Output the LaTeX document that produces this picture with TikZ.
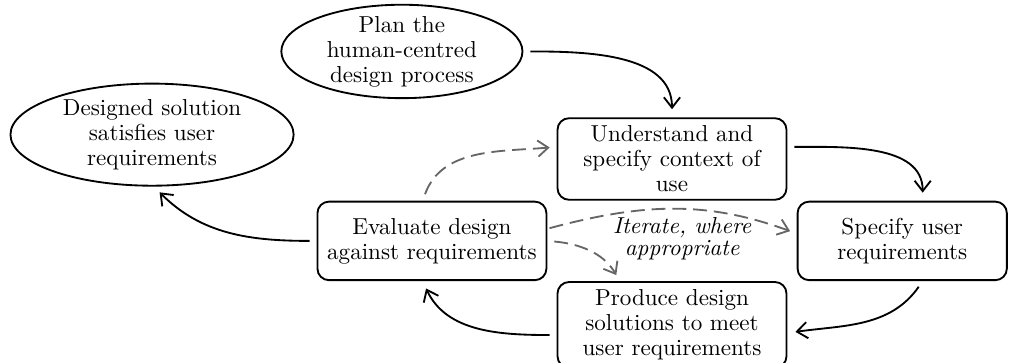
\documentclass[tikz,border=0pt]{standalone}
\usetikzlibrary{positioning,shapes.geometric,arrows.meta}

\begin{document}
\begin{tikzpicture}[
			font=\fontsize{10}{10.8}\selectfont,
			stage/.style={rectangle, rounded corners=5pt, draw=black, thick, text width=3.25cm, align=center, minimum height=34pt},
			goal/.style={ellipse, draw=black, thick, inner sep=0pt, align=center},
			note/.style={rectangle, text=black, font=\fontsize{10}{9.5}\selectfont\itshape, align=center},
			>={Straight Barb[length=4.5pt,width=7pt]}
		]
		\useasboundingbox (-187pt,-52.8pt) rectangle (252pt,104.3pt);
		\node[stage] (evaluate) at (0,0) {Evaluate design\\against requirements};
		\node[stage] (understand) [above right=0pt and 4pt of evaluate] {Understand and\\specify context of\\use};
		\node[stage, text width=2.95cm] (specify) [below right=0pt and 4pt of understand] {Specify user\\requirements};
		\node[stage] (produce) [below left=0pt and 4pt of specify] {Produce design\\solutions to meet\\user requirements};
		\node[goal, text width=2.5cm, minimum width=104.4pt, minimum height=40.3pt, inner ysep=-1pt] (plan) [above=44pt of evaluate, xshift=-13pt] {Plan the\\human-centred\\design process};
		\node[goal, text width=2.8cm, minimum width=122.6pt, minimum height=44.2pt] (designed) [left=9.5pt of evaluate, yshift=46pt] {Designed solution\\satisfies user\\requirements};
		\begin{scope}[thick, ->, shorten >=3.5pt, shorten <=3pt]
		\draw (plan.east) to[out=0, in=90] (understand.north);
		\draw (understand.6) to[out=0, in=90] (specify.63);
		\draw (specify.-63) to[out=-125, in=8] (produce.-4);
		\draw (produce.185) to[out=180, in=-65] (evaluate.257);
		\draw (evaluate.west) to[out=180, in=-45] (designed.-88);
		\end{scope}
		\begin{scope}[thick, ->, draw=black!60, dash pattern=on 6pt off 3pt, shorten >=3pt, shorten <=3pt]
		\draw (evaluate.103) to[out=70, in=185] (understand.174);
		\draw[shorten <=1pt] (evaluate.6) to[out=15, in=160] node[note, midway, below, xshift=4pt] {Iterate, where\\appropriate} (specify.176);
		\draw (evaluate.east) to[out=-5, in=120] (produce.140);
		\end{scope}
\end{tikzpicture}
\end{document}
